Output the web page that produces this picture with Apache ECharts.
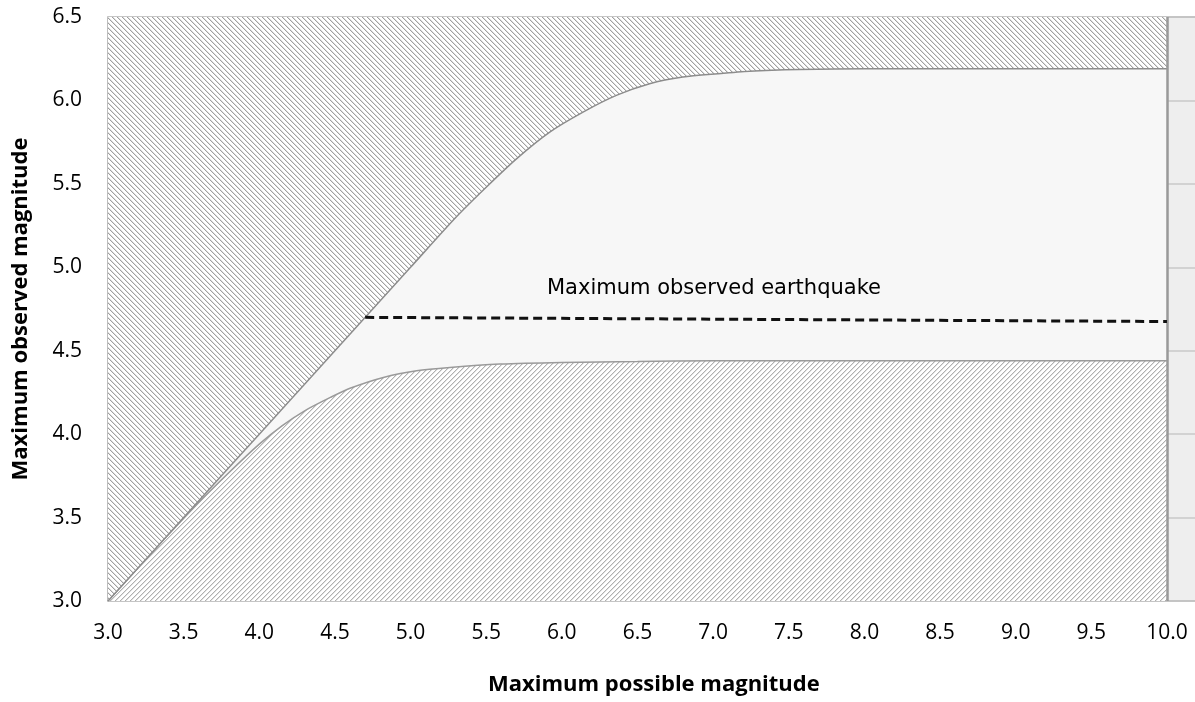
<!DOCTYPE html>
<html>
<head>
<meta charset="utf-8">
<script src="https://cdn.jsdelivr.net/npm/echarts@6/dist/echarts.min.js"></script>
<style>
html,body{margin:0;padding:0;background:#fff;}
#chart{width:1195px;height:702px;}
</style>
</head>
<body>
<div id="chart"></div>
<script>
// ---- data ----
var xTicks = ['3.0','3.5','4.0','4.5','5.0','5.5','6.0','6.5','7.0','7.5','8.0','8.5','9.0','9.5','10.0'];
var yTicks = ['3.0','3.5','4.0','4.5','5.0','5.5','6.0','6.5'];
var upperX = [3.0, 3.5, 4.0, 4.5, 5.0, 5.3, 5.5, 5.7, 5.92, 6.14, 6.36, 6.58, 6.8, 7.03, 7.24, 7.57, 8.0, 8.5, 9.0, 9.5, 10.0];
var upperY = [3.0, 3.5, 4.0, 4.5, 5.0, 5.3, 5.48, 5.65, 5.81, 5.93, 6.03, 6.10, 6.14, 6.16, 6.175, 6.185, 6.19, 6.19, 6.19, 6.19, 6.19];
var lowerX = [3.0, 3.3, 3.6, 3.8, 4.0, 4.15, 4.3, 4.47, 4.6, 4.82, 5.04, 5.26, 5.59, 6.0, 6.5, 7.0, 7.5, 8.0, 8.5, 9.0, 9.5, 10.0];
var lowerY = [3.0, 3.3, 3.59, 3.77, 3.94, 4.05, 4.14, 4.22, 4.275, 4.34, 4.38, 4.40, 4.42, 4.43, 4.435, 4.44, 4.44, 4.44, 4.44, 4.44, 4.44, 4.44];
var observedX = [4.7, 10.0];
var observedY = [4.70, 4.675];
var observedLabel = 'Maximum observed earthquake';
var xTitle = 'Maximum possible magnitude';
var yTitle = 'Maximum observed magnitude';

function pairs(xs, ys){ return xs.map(function(x,i){ return [x, ys[i]]; }); }

function hatch(period, dir, color, soft){
  var c = document.createElement('canvas');
  c.width = period; c.height = period;
  var ctx = c.getContext('2d');
  ctx.fillStyle = '#ffffff'; ctx.fillRect(0,0,period,period);
  for (var y=0; y<period; y++){
    for (var x=0; x<period; x++){
      var v = dir === 'back' ? ((x - y) % period + period) % period : (x + y) % period;
      if (v === 0){ ctx.fillStyle = color; ctx.fillRect(x,y,1,1); }
      else if (v === 1){ ctx.fillStyle = soft; ctx.fillRect(x,y,1,1); }
    }
  }
  return {image: c, repeat: 'repeat'};
}

var chart = echarts.init(document.getElementById('chart'), null, {renderer:'canvas'});
var labelFont = {fontFamily:'Open Sans', fontSize:21, color:'#000'};
function fmt(v){ return v > 10.001 ? '' : v.toFixed(1); }

chart.setOption({
  animation:false,
  backgroundColor:'#ffffff',
  grid:{left:108, top:17, bottom:101, right:-47.6, outerBoundsMode:'none', containLabel:false,
        show:true, backgroundColor:'#eeeeee', borderColor:'#a8a8a8', borderWidth:1.5},
  xAxis:{type:'value', min:3, max:10.5, interval:0.5,
    axisLine:{show:false}, axisTick:{show:false}, splitLine:{show:false},
    axisLabel:Object.assign({margin:22, formatter:fmt}, labelFont)},
  yAxis:{type:'value', min:3, max:6.5, interval:0.5,
    axisLine:{show:false}, axisTick:{show:false},
    splitLine:{show:true, lineStyle:{color:'#c8c8c8', width:1.5}},
    axisLabel:Object.assign({margin:26, formatter:fmt}, labelFont),
    name:yTitle, nameLocation:'middle', nameRotate:90, nameGap:76,
    nameTextStyle:{fontFamily:'Open Sans', fontWeight:'bold', fontSize:22, color:'#000'}},
  series:[
    {type:'line', name:'middle', data:pairs(upperX, upperY), symbol:'none', smooth:0.25,
     lineStyle:{width:0}, areaStyle:{color:'#f7f7f7', opacity:1, origin:'start'}, z:2},
    {type:'line', name:'lower', data:pairs(lowerX, lowerY), symbol:'none', smooth:0.25,
     lineStyle:{color:'#9a9a9a', width:1.5}, areaStyle:{color:hatch(5,'fwd','#b0b0b0','#e2e2e2'), opacity:1, origin:'start'}, z:3},
    {type:'line', name:'upper', data:pairs(upperX, upperY), symbol:'none', smooth:0.25,
     lineStyle:{color:'#8c8c8c', width:1.5}, areaStyle:{color:hatch(5,'back','#a0a0a0','#dedede'), opacity:1, origin:'end'}, z:4,
     markLine:{symbol:'none', silent:true, label:{show:false}, lineStyle:{color:'#999999', width:2.5, type:'solid'},
       data:[{xAxis:10}]}},
    {type:'line', name:'observed', data:pairs(observedX, observedY), symbol:'none',
     lineStyle:{color:'#111111', width:3, type:[9,5]}, z:5}
  ],
  graphic:[
    {type:'text', left:547, top:278, z:10, style:{text:observedLabel, fontFamily:'DejaVu Sans', fontSize:21, fill:'#000'}},
    {type:'text', left:488, top:674, z:10, style:{text:xTitle, fontFamily:'Open Sans', fontWeight:'bold', fontSize:22, fill:'#000'}}
  ]
});
</script>
</body>
</html>
